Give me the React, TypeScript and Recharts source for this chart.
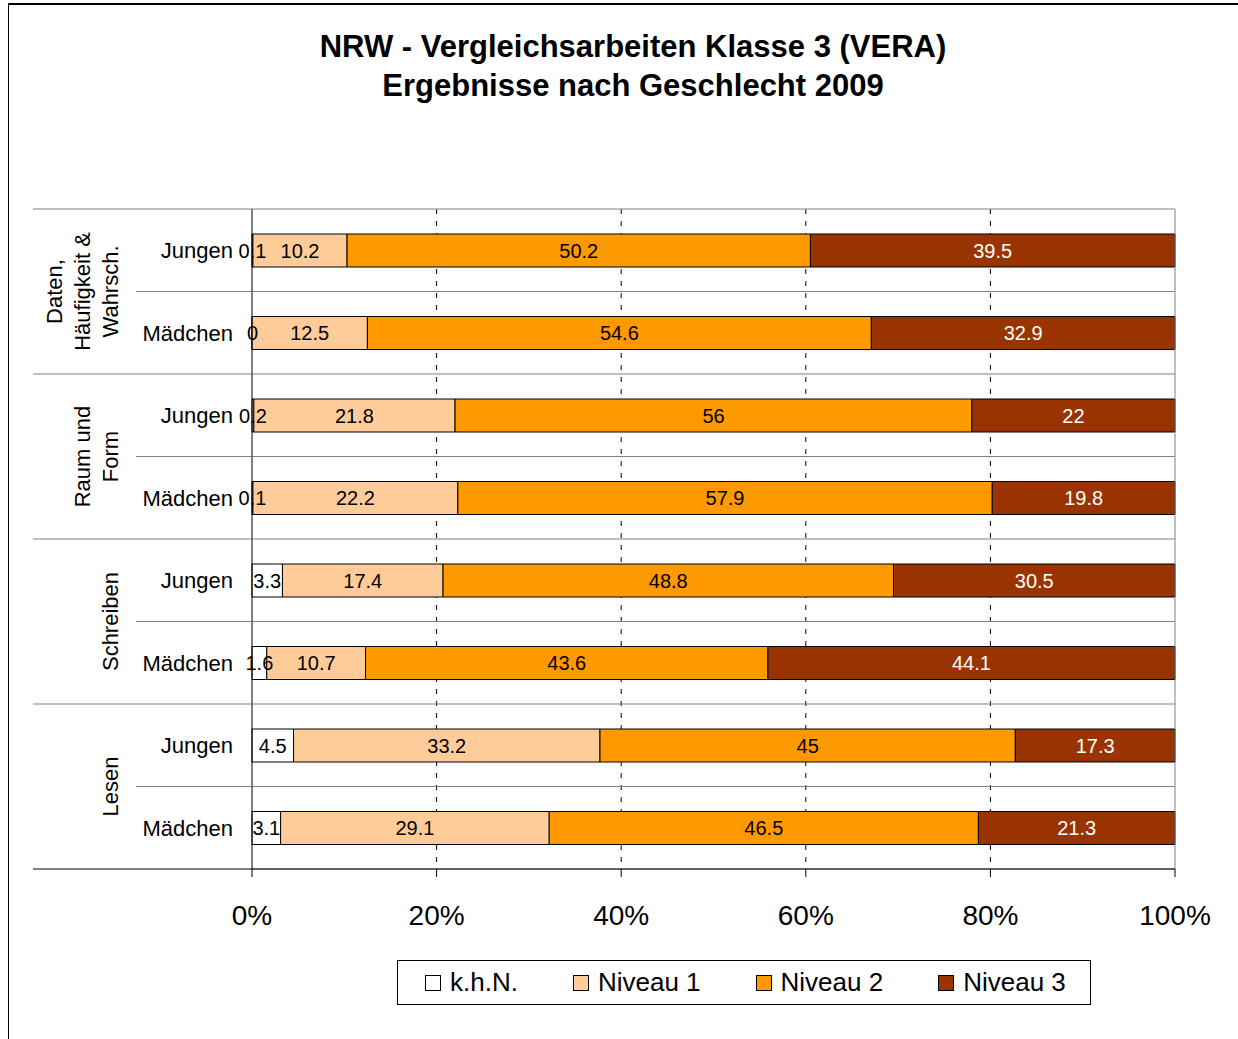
import React from "react";
import {
  BarChart,
  Bar,
  XAxis,
  YAxis,
  CartesianGrid,
  ReferenceLine,
  Legend,
  LabelList,
} from "recharts";

// groups (two rows each) and row labels
const groupLabels = [
  ["Daten,", "Häufigkeit &", "Wahrsch."],
  ["Raum und", "Form"],
  ["Schreiben"],
  ["Lesen"],
];
const genders = ["Jungen", "Mädchen"];

// percentages per row, top to bottom
const khn = [0.1, 0, 0.2, 0.1, 3.3, 1.6, 4.5, 3.1];
const niveau1 = [10.2, 12.5, 21.8, 22.2, 17.4, 10.7, 33.2, 29.1];
const niveau2 = [50.2, 54.6, 56, 57.9, 48.8, 43.6, 45, 46.5];
const niveau3 = [39.5, 32.9, 22, 19.8, 30.5, 44.1, 17.3, 21.3];

const xTicks = [0, 20, 40, 60, 80, 100];

const SERIES = [
  { key: "khn", name: "k.h.N.", color: "#FFFFFF", text: "#000000" },
  { key: "n1", name: "Niveau 1", color: "#FFCC99", text: "#000000" },
  { key: "n2", name: "Niveau 2", color: "#FF9900", text: "#000000" },
  { key: "n3", name: "Niveau 3", color: "#993300", text: "#FFFFFF" },
];

const rows = khn.map((v, i) => ({
  id: `r${i}`,
  gender: genders[i % 2],
  group: Math.floor(i / 2),
  khn: v,
  n1: niveau1[i],
  n2: niveau2[i],
  n3: niveau3[i],
}));

const W = 1238;
const H = 1039;
const PLOT_LEFT = 252;
const PLOT_TOP = 209;
const PLOT_RIGHT = 1175;
const PLOT_BOTTOM = 869;
const BAND = (PLOT_BOTTOM - PLOT_TOP) / rows.length;
const FONT = "'Liberation Sans', Arial, sans-serif";

function RowTick(props: any) {
  const { y, index } = props;
  const row = rows[index];
  const top = y - BAND / 2;
  const first = index % 2 === 0;
  const lines = first ? groupLabels[row.group] : [];
  const cy = top + BAND;
  return (
    <g>
      <line x1={first ? 33 : 136} x2={PLOT_LEFT} y1={top} y2={top} stroke="#808080" />
      {index === rows.length - 1 && (
        <line x1={33} x2={PLOT_LEFT} y1={top + BAND} y2={top + BAND} stroke="#000" />
      )}
      <text x={233} y={y} dy="0.36em" textAnchor="end" fontSize={22} fill="#000">
        {row.gender}
      </text>
      {lines.map((t, j) => {
        const lx = 118 - (lines.length - 1 - j) * 28;
        return (
          <text
            key={t}
            x={lx}
            y={cy}
            textAnchor="middle"
            fontSize={22}
            fill="#000"
            transform={`rotate(-90 ${lx} ${cy})`}
          >
            {t}
          </text>
        );
      })}
    </g>
  );
}

function LegendBox() {
  return (
    <div
      style={{
        boxSizing: "border-box",
        width: 694,
        height: 45,
        border: "1px solid #000",
        display: "flex",
        alignItems: "center",
        paddingLeft: 27,
        fontFamily: FONT,
        fontSize: 26,
        color: "#000",
        background: "#fff",
        whiteSpace: "nowrap",
      }}
    >
      {SERIES.map((s) => (
        <div
          key={s.key}
          style={{ display: "flex", alignItems: "center", marginRight: 55, flexShrink: 0 }}
        >
          <span
            style={{
              display: "inline-block",
              boxSizing: "border-box",
              width: 16,
              height: 16,
              border: "1px solid #000",
              background: s.color,
              marginRight: 9,
            }}
          />
          <span>{s.name}</span>
        </div>
      ))}
    </div>
  );
}

export default function App() {
  return (
    <div style={{ position: "relative", width: W, height: H, background: "#fff", fontFamily: FONT }}>
      <style>{"body{margin:0}"}</style>
      <div
        style={{
          position: "absolute",
          left: 8,
          top: 3,
          width: W,
          height: H,
          borderTop: "2px solid #000",
          borderLeft: "1px solid #000",
        }}
      />
      <div
        style={{
          position: "absolute",
          left: 8,
          top: 27,
          width: 1250,
          textAlign: "center",
          fontWeight: "bold",
          fontSize: 31,
          lineHeight: "39px",
          color: "#000",
        }}
      >
        <div>NRW - Vergleichsarbeiten Klasse 3 (VERA)</div>
        <div>Ergebnisse nach Geschlecht 2009</div>
      </div>
      <div style={{ position: "absolute", left: 0, top: 0 }}>
        <BarChart
          width={W}
          height={H}
          data={rows}
          layout="vertical"
          margin={{ top: PLOT_TOP, right: W - PLOT_RIGHT, bottom: H - PLOT_BOTTOM - 70, left: 0 }}
          barCategoryGap={0}
        >
          <CartesianGrid
            horizontal={false}
            stroke="#000"
            strokeDasharray="5 7"
            verticalCoordinatesGenerator={({ offset }: any) =>
              xTicks.slice(1, -1).map((t) => offset.left + (t / 100) * offset.width)
            }
          />
          <CartesianGrid
            vertical={false}
            stroke="#808080"
            horizontalCoordinatesGenerator={({ offset }: any) =>
              rows
                .map((_, i) => offset.top + (i * offset.height) / rows.length)
                .concat([offset.top + offset.height])
            }
          />
          <XAxis
            type="number"
            domain={[0, 100]}
            ticks={xTicks}
            tickFormatter={(v: number) => `${v}%`}
            tick={{ fill: "#000", fontSize: 28 }}
            tickSize={8}
            tickMargin={28}
            stroke="#000"
            height={70}
            interval={0}
          />
          <YAxis
            type="category"
            dataKey="id"
            width={PLOT_LEFT}
            tick={<RowTick />}
            tickLine={false}
            axisLine={{ stroke: "#000" }}
            interval={0}
          />
          <ReferenceLine x={100} stroke="#808080" />
          {SERIES.map((s) => (
            <Bar
              key={s.key}
              dataKey={s.key}
              name={s.name}
              stackId="a"
              fill={s.color}
              stroke="#000"
              strokeWidth={1}
              barSize={33}
              minPointSize={s.key === "khn" ? 1 : 0}
              isAnimationActive={false}
            >
              <LabelList dataKey={s.key} position="center" fill={s.text} fontSize={20} />
            </Bar>
          ))}
          <Legend
            layout="horizontal"
            verticalAlign="middle"
            align="center"
            wrapperStyle={{ left: 397, top: 960, width: 694, height: 45 }}
            content={() => <LegendBox />}
          />
        </BarChart>
      </div>
    </div>
  );
}
